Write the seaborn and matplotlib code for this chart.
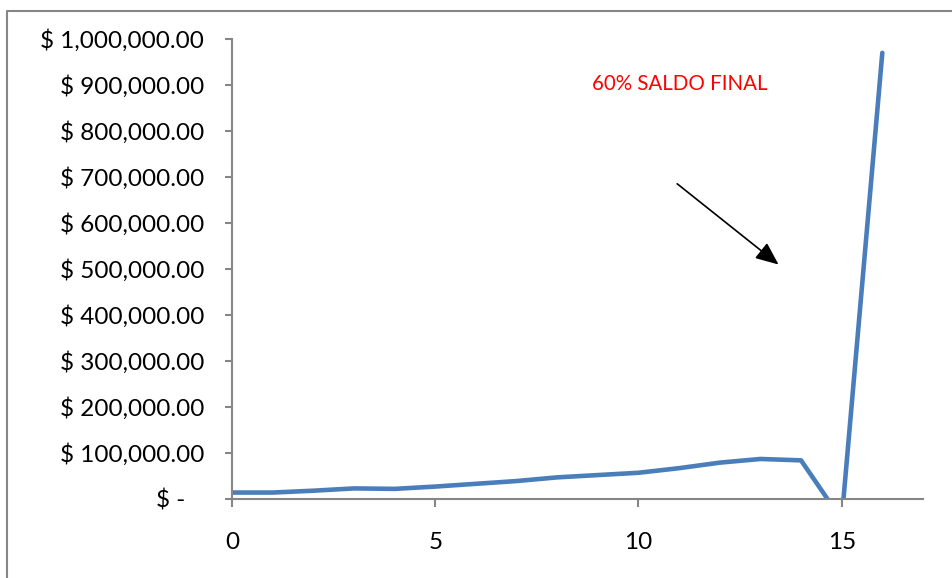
import matplotlib
matplotlib.use("Agg")
import matplotlib.pyplot as plt
import matplotlib.ticker as mticker
from matplotlib.lines import Line2D
import seaborn as sns
import pandas as pd

# Data
anios = [0, 1, 2, 3, 4, 5, 6, 7, 8, 9, 10, 11, 12, 13, 14, 15, 16]
saldo = [14000, 14000, 18000, 23000, 22000, 27000, 33000, 39000, 47000, 52000,
         57000, 67000, 79000, 87000, 84000, -45000, 970000]
y_ticks = [0, 100000, 200000, 300000, 400000, 500000, 600000, 700000, 800000, 900000, 1000000]
x_ticks = [0, 5, 10, 15]
nota = "60% SALDO FINAL"

df = pd.DataFrame({"anio": anios, "saldo": saldo})

sns.set_style("white")
plt.rcParams["font.family"] = ["Lato", "DejaVu Sans"]

gris = "#868686"
fig = plt.figure(figsize=(9.52, 5.78), dpi=100)
ax = fig.add_axes([0.2437, 0.1367, 0.7258, 0.7958])

sns.lineplot(data=df, x="anio", y="saldo", ax=ax, color="#4a7ebb", linewidth=3.3,
             solid_joinstyle="round", solid_capstyle="round")

ax.set_xlim(0, 17)
ax.set_ylim(0, 1000000)
ax.set_xticks(x_ticks)
ax.set_yticks(y_ticks)


def fmt_dinero(v, pos):
    if v == 0:
        return "$ -   "
    return "$ {:,.2f}".format(v)


ax.yaxis.set_major_formatter(mticker.FuncFormatter(fmt_dinero))
ax.set_xlabel("")
ax.set_ylabel("")

for side in ["top", "right"]:
    ax.spines[side].set_visible(False)
for side in ["left", "bottom"]:
    ax.spines[side].set_color(gris)
    ax.spines[side].set_linewidth(1.5)

ax.tick_params(axis="y", direction="out", length=5, width=1.5, color=gris,
               pad=15, labelsize=17.5, labelcolor="black", left=True)
ax.tick_params(axis="x", direction="out", length=5.5, width=1.5, color=gris,
               pad=18, labelsize=17.5, labelcolor="black", bottom=True)

ax.text(8.86, 902000, nota, color="red", fontsize=14.8, va="center", ha="left")
ax.annotate("", xy=(13.5, 506000), xytext=(10.9, 689000),
            arrowprops=dict(arrowstyle="-|>,head_length=1.4,head_width=0.6",
                            color="black", lw=1.2))

# chart area border (Excel style)
fig.add_artist(Line2D([0.0074, 0.0074, 1.0], [0.0, 0.981, 0.981],
                      transform=fig.transFigure, color=gris, linewidth=1.5))

fig.savefig("out.png", dpi=100)
